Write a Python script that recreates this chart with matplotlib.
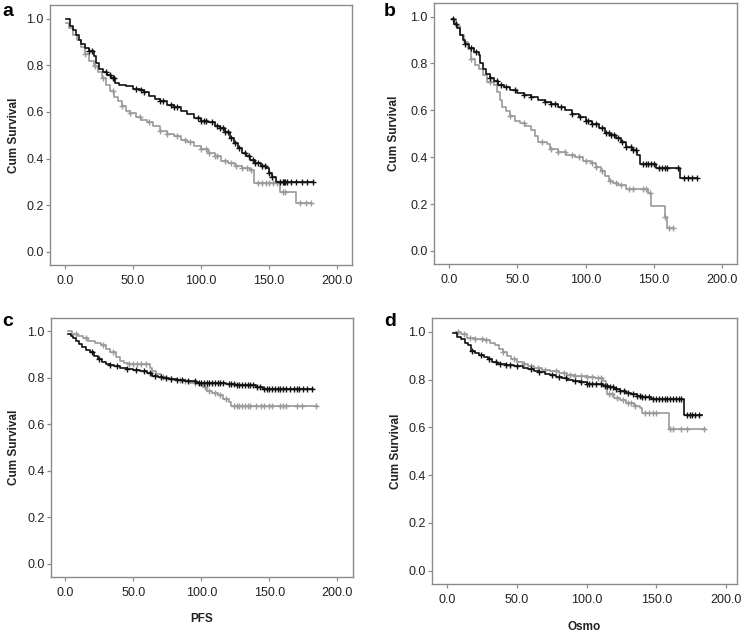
import numpy as np
import matplotlib
matplotlib.use("Agg")
import matplotlib.pyplot as plt

plt.rcParams['font.family'] = ['Liberation Sans', 'DejaVu Sans']

# ---------------- data ----------------
# Panel a
a_black_t = [1, 4, 6, 8, 10, 12, 15, 18, 21, 23, 25, 28, 31, 34, 37, 40, 45, 50, 55, 58, 62, 66, 70, 75, 80, 85, 90, 95, 100, 105, 110, 114, 118, 121, 124, 127, 130, 133, 136, 140, 144, 148, 150, 152, 155]
a_black_s = [1.0, 0.97, 0.95, 0.93, 0.91, 0.89, 0.875, 0.86, 0.84, 0.81, 0.785, 0.77, 0.76, 0.745, 0.725, 0.715, 0.71, 0.70, 0.695, 0.685, 0.67, 0.655, 0.645, 0.63, 0.62, 0.605, 0.59, 0.575, 0.56, 0.555, 0.54, 0.53, 0.515, 0.49, 0.465, 0.445, 0.425, 0.41, 0.395, 0.38, 0.37, 0.36, 0.34, 0.32, 0.30]
a_black_end = 182
a_black_cens = [18, 20, 30, 33, 35, 36, 52, 56, 58, 70, 72, 78, 80, 82, 98, 100, 102, 104, 108, 112, 114, 116, 118, 120, 122, 125, 128, 132, 135, 138, 140, 142, 145, 147, 150, 152, 158, 160, 161, 162, 163, 166, 170, 174, 178, 182]

a_gray_t = [1, 3, 6, 9, 12, 15, 18, 21, 24, 27, 30, 33, 36, 39, 42, 45, 48, 52, 56, 60, 65, 70, 75, 80, 85, 90, 95, 100, 105, 110, 115, 120, 125, 130, 136, 139, 158, 170]
a_gray_s = [0.98, 0.96, 0.93, 0.91, 0.88, 0.85, 0.82, 0.795, 0.77, 0.745, 0.715, 0.69, 0.665, 0.645, 0.625, 0.605, 0.595, 0.58, 0.565, 0.555, 0.54, 0.52, 0.505, 0.495, 0.48, 0.47, 0.455, 0.44, 0.425, 0.41, 0.39, 0.38, 0.37, 0.36, 0.35, 0.295, 0.255, 0.21]
a_gray_end = 181
a_gray_cens = [15, 22, 28, 35, 42, 48, 55, 62, 70, 75, 82, 88, 92, 100, 104, 106, 110, 112, 118, 122, 126, 130, 134, 137, 142, 145, 148, 150, 153, 156, 160, 162, 173, 177, 181]

# Panel b
b_black_t = [2, 4, 6, 8, 10, 12, 15, 18, 22, 23, 25, 27, 30, 33, 36, 40, 45, 50, 55, 60, 65, 70, 75, 80, 85, 90, 95, 100, 105, 110, 114, 118, 122, 126, 130, 134, 138, 140, 152, 169]
b_black_s = [0.99, 0.97, 0.95, 0.92, 0.90, 0.885, 0.865, 0.85, 0.835, 0.80, 0.775, 0.755, 0.74, 0.725, 0.71, 0.70, 0.685, 0.675, 0.665, 0.655, 0.645, 0.635, 0.625, 0.615, 0.60, 0.585, 0.57, 0.555, 0.54, 0.525, 0.505, 0.495, 0.48, 0.465, 0.445, 0.43, 0.41, 0.37, 0.355, 0.31]
b_black_end = 182
b_black_cens = [3, 5, 12, 16, 20, 30, 35, 38, 42, 48, 55, 60, 70, 75, 78, 82, 90, 96, 100, 102, 105, 108, 112, 115, 117, 119, 121, 124, 127, 130, 133, 135, 137, 142, 144, 146, 148, 150, 154, 156, 158, 160, 168, 172, 175, 178, 182]

b_gray_t = [2, 5, 8, 11, 14, 16, 19, 22, 25, 28, 33, 35, 37, 39, 42, 45, 48, 52, 56, 60, 63, 65, 72, 74, 80, 86, 92, 98, 104, 108, 111, 114, 117, 120, 124, 130, 146, 148, 158, 160]
b_gray_s = [0.99, 0.96, 0.92, 0.89, 0.86, 0.82, 0.795, 0.775, 0.75, 0.72, 0.71, 0.68, 0.645, 0.615, 0.595, 0.575, 0.555, 0.545, 0.535, 0.515, 0.49, 0.465, 0.455, 0.435, 0.42, 0.41, 0.40, 0.385, 0.375, 0.36, 0.34, 0.32, 0.30, 0.29, 0.28, 0.265, 0.245, 0.19, 0.145, 0.098]
b_gray_end = 164
b_gray_cens = [16, 30, 45, 55, 68, 75, 80, 85, 90, 95, 100, 105, 108, 112, 118, 122, 126, 132, 135, 142, 144, 147, 158, 161, 164]

# Panel c
c_black_t = [2, 4, 6, 8, 10, 12, 15, 18, 21, 24, 27, 30, 33, 36, 40, 45, 50, 55, 60, 64, 68, 72, 76, 82, 88, 96, 118, 125, 140, 145]
c_black_s = [0.99, 0.98, 0.97, 0.96, 0.945, 0.935, 0.92, 0.91, 0.895, 0.88, 0.87, 0.86, 0.855, 0.85, 0.845, 0.84, 0.835, 0.83, 0.82, 0.81, 0.805, 0.80, 0.795, 0.79, 0.785, 0.78, 0.775, 0.77, 0.76, 0.752]
c_black_end = 182
c_black_cens = [20, 25, 33, 38, 45, 52, 58, 62, 66, 70, 74, 78, 82, 86, 90, 95, 98, 100, 102, 104, 106, 108, 110, 112, 114, 116, 120, 122, 124, 126, 128, 130, 132, 134, 136, 138, 141, 143, 146, 148, 150, 152, 154, 156, 158, 160, 162, 165, 168, 170, 172, 175, 178, 181]

c_gray_t = [2, 5, 9, 13, 17, 22, 26, 30, 33, 37, 40, 43, 46, 62, 64, 67, 70, 74, 80, 86, 92, 98, 101, 104, 108, 112, 116, 120, 122]
c_gray_s = [1.0, 0.99, 0.98, 0.97, 0.96, 0.95, 0.94, 0.925, 0.91, 0.89, 0.875, 0.865, 0.86, 0.845, 0.83, 0.815, 0.805, 0.795, 0.79, 0.785, 0.78, 0.77, 0.76, 0.745, 0.735, 0.725, 0.71, 0.695, 0.68]
c_gray_end = 185
c_gray_cens = [8, 15, 28, 35, 47, 50, 53, 56, 59, 72, 78, 84, 88, 95, 103, 106, 110, 114, 118, 124, 126, 128, 130, 132, 134, 136, 140, 144, 146, 150, 152, 158, 160, 162, 170, 174, 184]

# Panel d
d_black_t = [4, 7, 10, 13, 15, 17, 20, 23, 26, 29, 32, 36, 42, 48, 54, 58, 62, 66, 70, 74, 78, 82, 86, 90, 95, 100, 112, 116, 120, 124, 128, 132, 136, 140, 146, 170]
d_black_s = [0.995, 0.98, 0.97, 0.955, 0.945, 0.92, 0.91, 0.905, 0.895, 0.885, 0.875, 0.865, 0.86, 0.855, 0.85, 0.845, 0.838, 0.83, 0.825, 0.818, 0.81, 0.805, 0.80, 0.795, 0.79, 0.78, 0.775, 0.77, 0.76, 0.752, 0.745, 0.738, 0.732, 0.728, 0.72, 0.653]
d_black_end = 183
d_black_cens = [18, 24, 30, 35, 38, 42, 45, 50, 60, 66, 75, 80, 85, 92, 96, 100, 102, 104, 107, 110, 113, 115, 117, 119, 121, 124, 127, 130, 133, 136, 138, 140, 142, 145, 148, 150, 152, 154, 156, 158, 160, 162, 164, 166, 168, 172, 174, 176, 178, 181]

d_gray_t = [6, 10, 14, 20, 26, 31, 34, 37, 40, 43, 46, 50, 54, 58, 62, 68, 74, 80, 86, 92, 100, 106, 112, 114, 115, 120, 124, 128, 134, 138, 140, 159]
d_gray_s = [1.0, 0.99, 0.975, 0.97, 0.965, 0.955, 0.945, 0.93, 0.915, 0.90, 0.885, 0.875, 0.865, 0.855, 0.85, 0.842, 0.835, 0.828, 0.82, 0.815, 0.81, 0.805, 0.795, 0.775, 0.74, 0.725, 0.715, 0.70, 0.69, 0.68, 0.66, 0.593]
d_gray_end = 185
d_gray_cens = [8, 12, 16, 20, 25, 28, 40, 48, 55, 60, 65, 70, 78, 84, 88, 92, 96, 100, 104, 108, 110, 116, 118, 122, 126, 130, 132, 135, 142, 145, 148, 150, 160, 162, 168, 172, 184]

x_ticks = [0, 50, 100, 150, 200]
x_ticklabels = ["0.0", "50.0", "100.0", "150.0", "200.0"]
y_ticks = [0.0, 0.2, 0.4, 0.6, 0.8, 1.0]
y_ticklabels = ["0.0", "0.2", "0.4", "0.6", "0.8", "1.0"]
panel_letters = ["a", "b", "c", "d"]
x_titles = ["", "", "PFS", "Osmo"]
y_title = "Cum Survival"

# ---------------- drawing ----------------
W, H = 750, 634
fig = plt.figure(figsize=(W / 100, H / 100), dpi=100)

def px_axes(l, r, t, b):
    return [l / W, 1 - b / H, (r - l) / W, (b - t) / H]

boxes = [px_axes(50, 352, 5, 265), px_axes(434, 737, 3, 264),
         px_axes(51, 353, 318, 577), px_axes(432, 737, 318, 584)]
xlims = [(-11, 211), (-11, 211), (-10.5, 211.5), (-11, 208)]
letter_pos = [(8, 12), (390, 12), (8, 322), (390, 322)]
ylabel_x = [8, 388, 8, 390]
xtitle_y = [None, None, 619, 627]

panels = [
    ((a_black_t, a_black_s, a_black_end, a_black_cens), (a_gray_t, a_gray_s, a_gray_end, a_gray_cens)),
    ((b_black_t, b_black_s, b_black_end, b_black_cens), (b_gray_t, b_gray_s, b_gray_end, b_gray_cens)),
    ((c_black_t, c_black_s, c_black_end, c_black_cens), (c_gray_t, c_gray_s, c_gray_end, c_gray_cens)),
    ((d_black_t, d_black_s, d_black_end, d_black_cens), (d_gray_t, d_gray_s, d_gray_end, d_gray_cens)),
]

BLACK = "#111111"
GRAY = "#9a9a9a"
FRAME = "#8a8a8a"

def draw_km(ax, t, s, end, cens, color, z):
    t = np.asarray(t, float)
    s = np.asarray(s, float)
    tx = np.append(t, end)
    sx = np.append(s, s[-1])
    ax.step(tx, sx, where="post", color=color, lw=1.2, zorder=z)
    c = np.asarray(cens, float)
    idx = np.searchsorted(t, c, side="right") - 1
    idx = np.clip(idx, 0, len(s) - 1)
    ax.plot(c, s[idx], ls="none", marker="+", ms=5, mew=1.0, color=color, zorder=z)

for i, ax_box in enumerate(boxes):
    ax = fig.add_axes(ax_box)
    black, gray = panels[i]
    draw_km(ax, *gray, GRAY, 2)
    draw_km(ax, *black, BLACK, 3)
    ax.set_xlim(*xlims[i])
    ax.set_ylim(-0.056, 1.058)
    ax.set_xticks(x_ticks)
    ax.set_xticklabels(x_ticklabels)
    ax.set_yticks(y_ticks)
    ax.set_yticklabels(y_ticklabels)
    ax.tick_params(axis="both", length=3, width=0.9, color=FRAME,
                   labelsize=9, labelcolor="#222222")
    ax.tick_params(axis="x", pad=4)
    ax.tick_params(axis="y", pad=1.5)
    for sp in ax.spines.values():
        sp.set_color(FRAME)
        sp.set_linewidth(1.0)
    cy = 1 - ((ax_box[1] + ax_box[3] / 2))
    fig.text(ylabel_x[i] / W, ax_box[1] + ax_box[3] / 2, y_title, rotation=90,
             ha="left", va="center", fontsize=8.5, fontweight="bold", color="#222222")
    lx, ly = letter_pos[i]
    fig.text(lx / W, 1 - ly / H, panel_letters[i], ha="center", va="center",
             fontsize=14, fontweight="bold")
    if x_titles[i]:
        fig.text(ax_box[0] + ax_box[2] / 2, 1 - xtitle_y[i] / H, x_titles[i],
                 ha="center", va="center", fontsize=8.5, fontweight="bold", color="#222222")

fig.savefig("out.png", dpi=100, facecolor="white")
